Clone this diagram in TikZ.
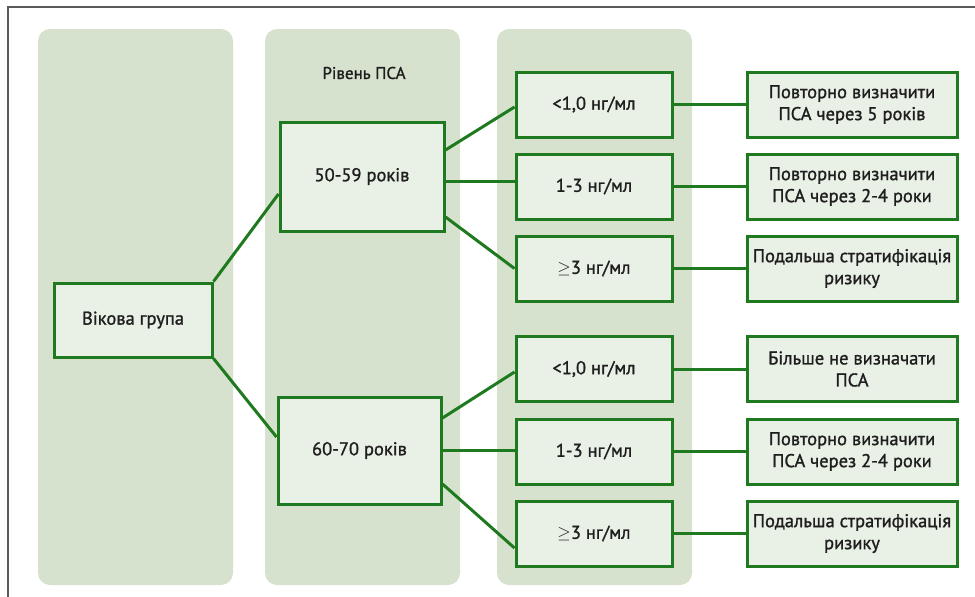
\documentclass[tikz,border=0pt]{standalone}
\usepackage{fontspec}
\setmainfont{PT Sans}
\newfontfamily\medfont{PT Sans}[FakeBold=1.2]
\definecolor{colbg}{HTML}{D6E2CD}
\definecolor{boxbg}{HTML}{E9F0E6}
\definecolor{gline}{HTML}{1F7A1F}
\definecolor{txt}{HTML}{1E1E1E}
\begin{document}
\begin{tikzpicture}[x=1pt,y=-1pt,
  column/.style={fill=colbg,rounded corners=12pt,draw=none},
  box/.style={draw=gline,fill=boxbg,line width=3pt,inner sep=0pt,align=center,text=txt,
    font=\medfont\fontsize{18.5}{22}\selectfont},
  conn/.style={draw=gline,line width=3pt}]
\useasboundingbox (0,0) rectangle (975,597);
\draw[color=black!65,line width=1.5pt] (8,597) -- (8,7) -- (975,7);
% columns
\fill[column] (38,29) rectangle (233,585);
\fill[column] (265,29) rectangle (460,585);
\fill[column] (497,29) rectangle (692,585);
\node[text=txt,font=\medfont\fontsize{17}{20}\selectfont] (title) at (364,73) {Рівень ПСА};
% nodes
\node[box,minimum width=158pt,minimum height=74pt] (age) at (133,320) {Вікова група};
\node[box,minimum width=164pt,minimum height=109pt] (g1) at (362,176.5) {50-59 років};
\node[box,minimum width=163pt,minimum height=107pt] (g2) at (359.5,450.5) {60-70 років};
\foreach \n/\y/\t in {m1/104.5/{<1,0 нг/мл},m2/186.5/{1-3 нг/мл},m3/268.5/{$\geq$3 нг/мл},
                       m4/369/{<1,0 нг/мл},m5/451.5/{1-3 нг/мл},m6/533.5/{$\geq$3 нг/мл}}
  \node[box,minimum width=156pt,minimum height=65pt] (\n) at (594,\y) {\t};
\node[box,minimum width=210pt,minimum height=65pt] (r1) at (852,104.5) {Повторно визначити\\ПСА через 5 років};
\node[box,minimum width=210pt,minimum height=65pt] (r2) at (852,186.5) {Повторно визначити\\ПСА через 2-4 роки};
\node[box,minimum width=210pt,minimum height=65pt] (r3) at (852,268.5) {Подальша стратифікація\\ризику};
\node[box,minimum width=210pt,minimum height=65pt] (r4) at (852,369) {Більше не визначати\\ПСА};
\node[box,minimum width=210pt,minimum height=65pt] (r5) at (852,451.5) {Повторно визначити\\ПСА через 2-4 роки};
\node[box,minimum width=210pt,minimum height=65pt] (r6) at (852,533.5) {Подальша стратифікація\\ризику};
% connectors
\draw[conn] (age.north east) -- ([yshift=-17.5pt]g1.west);
\draw[conn] (age.south east) -- ([yshift=13.5pt]g2.west);
\draw[conn] ([yshift=26.5pt]g1.east) -- ([yshift=-2.5pt]m1.west);
\draw[conn] ([yshift=-4.5pt]g1.east) -- ([yshift=-4.5pt]g1.east -| m2.west);
\draw[conn] ([yshift=-40.5pt]g1.east) -- (m3.west);
\draw[conn] ([yshift=32.5pt]g2.east) -- ([yshift=-3pt]m4.west);
\draw[conn] (g2.east) -- (g2.east -| m5.west);
\draw[conn] ([yshift=-33.5pt]g2.east) -- ([yshift=-14.5pt]m6.west);
\foreach \i in {1,...,6} \draw[conn] (m\i.east) -- (r\i.west);
\end{tikzpicture}
\end{document}
